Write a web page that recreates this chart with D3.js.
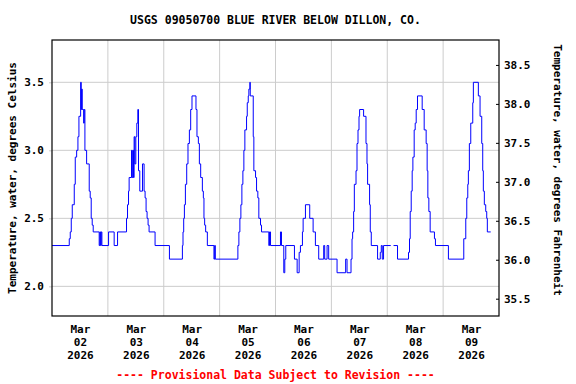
<!DOCTYPE html>
<html>
<head>
<meta charset="utf-8">
<script src="https://cdn.jsdelivr.net/npm/d3@7"></script>
<style>
  body { margin: 0; background: #fff; }
  text { font-family: "DejaVu Sans Mono", monospace; font-weight: bold; }
</style>
</head>
<body>
<script>
// chart texts
const chartTitle = "USGS 09050700 BLUE RIVER BELOW DILLON, CO.";
const leftTitle = "Temperature, water, degrees Celsius";
const rightTitle = "Temperature, water, degrees Fahrenheit";
const footNote = "---- Provisional Data Subject to Revision ----";

// x axis: one label per day, placed at noon
const dayLabels = ["02", "03", "04", "05", "06", "07", "08", "09"];
const monthLabel = "Mar";
const yearLabel = "2026";

// tick values of both y axes
const celsiusTicks = [2.0, 2.5, 3.0, 3.5];
const fahrenheitTicks = [35.5, 36.0, 36.5, 37.0, 37.5, 38.0, 38.5];

// readings: hours after Mar 02 00:00 where the value changes, and the value (deg C)
// null marks a gap in the record
const hours = [0, 7.41, 7.84, 8.27, 8.70, 9.56, 9.99, 10.59, 11.14, 11.57, 12.30, 12.56, 12.73, 12.99,
  13.59, 13.84, 14.14, 14.87, 15.99, 16.41, 16.84, 17.27, 17.70, 20.27, 20.57, 20.87, 21.13, 21.43,
  24.30, 26.70, 28.16, 32.01, 32.44, 32.87, 33.13, 34.16, 34.41, 34.71, 35.01, 35.27, 35.57, 36.00,
  36.43, 36.86, 37.16, 37.71, 38.87, 39.56, 39.99, 40.41, 40.84, 41.27, 41.70, 44.27, 50.44,
  56.01, 56.27, 56.57, 56.87, 57.30, 57.86, 58.41, 59.01, 59.57, 60.13, 61.84, 62.27, 62.87, 63.30,
  63.86, 64.59, 65.01, 65.27, 65.57, 66.00, 66.73, 69.56, 69.86, 70.16,
  79.84, 80.27, 80.70, 81.13, 81.56, 81.99, 82.41, 82.84, 83.57, 83.87, 84.30, 84.56, 84.99, 85.16,
  86.44, 86.70, 87.43, 87.86, 88.41, 88.84, 89.57, 90.00, 93.13, 93.43, 93.86, 98.14, 98.57, 99.56,
  99.99, 100.41, 104.14, 105.30, 106.16, 106.71, 107.57, 107.87, 108.86, 110.70, 112.16, 113.14,
  114.56, 116.70, 117.13, 118.16, 118.84, 122.44, 126.13, 126.73,
  128.44, 128.87, 129.13, 129.56, 129.86, 130.59, 131.01, 131.44, 131.87, 132.13, 133.84, 134.87,
  135.30, 135.56, 136.41, 136.71, 137.14, 139.84, 141.00, 141.43, 141.86, 142.41, 145.50, 145.59,
  146.70, 148.41, 153.13, 153.56, 153.86, 154.29, 154.71, 155.01, 155.57, 156.00, 156.43, 156.99,
  159.00, 159.86, 160.71, 161.14, 161.44, 161.87, 162.43, 164.27, 164.70, 170.27,
  176.87, 177.73, 178.16, 178.59, 178.84, 179.27, 179.87, 180.73, 180.99, 183.13, 183.86, 184.59,
  185.01, 185.27, 185.70, 186.30, 186.73, 186.99, 188.44];
const tempC = [2.3, 2.35, 2.4, 2.5, 2.6, 2.75, 2.95, 3.0, 3.1, 3.25, 3.5, 3.3, 3.45, 3.3,
  3.2, 3.3, 3.0, 2.9, 2.7, 2.65, 2.5, 2.45, 2.4, 2.3, 2.4, 2.3, 2.4, 2.3,
  2.4, 2.3, 2.4, 2.5, 2.6, 2.7, 2.8, 3.0, 2.8, 3.0, 2.8, 3.1, 2.9, 3.1,
  3.2, 3.3, 2.85, 2.7, 2.9, 2.7, 2.65, 2.55, 2.5, 2.45, 2.4, 2.3, 2.2,
  2.3, 2.4, 2.5, 2.6, 2.75, 2.9, 3.05, 3.15, 3.3, 3.4, 3.3, 3.1, 3.05, 2.9,
  2.8, 2.7, 2.65, 2.5, 2.45, 2.4, 2.3, 2.2, 2.3, 2.2,
  2.3, 2.4, 2.5, 2.6, 2.75, 2.85, 3.0, 3.15, 3.25, 3.35, 3.4, 3.45, 3.5, 3.4,
  3.1, 2.85, 2.8, 2.7, 2.65, 2.5, 2.45, 2.4, 2.3, 2.4, 2.3, 2.4, 2.3, 2.1,
  2.2, 2.3, 2.2, 2.1, 2.25, 2.3, 2.4, 2.5, 2.6, 2.5, 2.4, 2.3,
  2.2, 2.3, 2.2, 2.3, 2.2, 2.1, 2.2, 2.1,
  2.2, 2.35, 2.4, 2.55, 2.75, 2.85, 3.05, 3.15, 3.25, 3.3, 3.25, 3.05,
  2.9, 2.75, 2.6, 2.4, 2.3, 2.2, 2.25, 2.3, 2.2, 2.3, 2.3, null,
  2.3, 2.2, 2.25, 2.35, 2.55, 2.7, 2.85, 2.95, 3.15, 3.2, 3.3, 3.4,
  3.3, 3.15, 3.05, 2.85, 2.65, 2.55, 2.4, 2.35, 2.3, 2.2,
  2.35, 2.5, 2.65, 2.75, 2.85, 3.05, 3.2, 3.35, 3.5, 3.4, 3.25, 3.05,
  2.85, 2.7, 2.6, 2.55, 2.5, 2.4, 2.4];

const width = 576, height = 384;
const margin = {top: 40, right: 77, bottom: 68, left: 52};
const plotW = width - margin.left - margin.right;
const plotH = height - margin.top - margin.bottom;

const startDate = new Date(2026, 2, 2);
const endDate = new Date(2026, 2, 10);
const hourMs = 3600 * 1000;

//pairs of date and value for the line
const data = hours.map(function(h, i) {
  return {date: new Date(startDate.getTime() + h * hourMs), v: tempC[i]};
});

const svg = d3.select("body").append("svg")
  .attr("width", width).attr("height", height);
const g = svg.append("g")
  .attr("transform", "translate(" + margin.left + "," + margin.top + ")");

const x = d3.scaleTime().domain([startDate, endDate]).range([0, plotW]);
const y = d3.scaleLinear().domain([1.782, 3.811]).range([plotH, 0]);
//right axis
const yF = d3.scaleLinear().domain([35.278, 38.82]).range([plotH, 0]);

//grid lines: midnights and celsius ticks
const midnights = d3.timeDay.range(d3.timeDay.offset(startDate, 1), endDate);
g.append("g").selectAll("line").data(midnights).enter().append("line")
  .attr("x1", function(d){ return x(d); }).attr("x2", function(d){ return x(d); })
  .attr("y1", 0).attr("y2", plotH)
  .attr("stroke", "#cccccc").attr("stroke-width", 1);
g.append("g").selectAll("line").data(celsiusTicks).enter().append("line")
  .attr("x1", 0).attr("x2", plotW)
  .attr("y1", function(d){ return y(d); }).attr("y2", function(d){ return y(d); })
  .attr("stroke", "#cccccc").attr("stroke-width", 1);

//left axis
const leftAxis = g.append("g")
  .call(d3.axisLeft(y).tickValues(celsiusTicks).tickSize(3).tickPadding(5).tickFormat(d3.format(".1f")));
leftAxis.select(".domain").remove();
leftAxis.selectAll("line").attr("stroke", "#cccccc");

//right axis, ticks pointing inward
const rightAxis = g.append("g").attr("transform", "translate(" + plotW + ",0)")
  .call(d3.axisRight(yF).tickValues(fahrenheitTicks).tickSize(-3).tickPadding(5).tickFormat(d3.format(".1f")));
rightAxis.select(".domain").remove();

//bottom axis: labels at noon, three lines each
const noons = dayLabels.map(function(d, i){ return new Date(2026, 2, 2 + i, 12); });
const bottomAxis = g.append("g").attr("transform", "translate(0," + plotH + ")")
  .call(d3.axisBottom(x).tickValues(noons).tickSize(0).tickPadding(9));
bottomAxis.select(".domain").remove();
bottomAxis.selectAll(".tick text").each(function(d, i) {
  const t = d3.select(this).text(null);
  t.append("tspan").attr("x", 0).text(monthLabel);
  t.append("tspan").attr("x", 0).attr("dy", "1.2em").text(dayLabels[i]);
  t.append("tspan").attr("x", 0).attr("dy", "1.2em").text(yearLabel);
});

[leftAxis, rightAxis, bottomAxis].forEach(function(a) {
  a.attr("font-family", "DejaVu Sans Mono").attr("font-size", 11).attr("font-weight", "bold");
  a.selectAll("text").attr("fill", "#000");
});

//the data line
const line = d3.line()
  .defined(function(d){ return d.v !== null; })
  .x(function(d){ return x(d.date); })
  .y(function(d){ return y(d.v); })
  .curve(d3.curveStepAfter);
g.append("path").datum(data)
  .attr("fill", "none").attr("stroke", "#0000ff").attr("stroke-width", 1)
  .attr("d", line);

//frame
g.append("rect").attr("x", 0).attr("y", 0).attr("width", plotW).attr("height", plotH)
  .attr("fill", "none").attr("stroke", "#000").attr("stroke-width", 1.2);

//titles
svg.append("text").attr("x", margin.left + plotW / 2).attr("y", 24)
  .attr("text-anchor", "middle").attr("font-size", 11.5).text(chartTitle);
svg.append("text").attr("transform", "translate(16," + (margin.top + plotH / 2) + ") rotate(-90)")
  .attr("text-anchor", "middle").attr("font-size", 11).text(leftTitle);
svg.append("text").attr("transform", "translate(554," + (margin.top + plotH / 2 - 8) + ") rotate(90)")
  .attr("text-anchor", "middle").attr("font-size", 11).text(rightTitle);
svg.append("text").attr("x", margin.left + plotW / 2).attr("y", 379)
  .attr("text-anchor", "middle").attr("font-size", 11.5).attr("fill", "#ff0000").text(footNote);
</script>
</body>
</html>
